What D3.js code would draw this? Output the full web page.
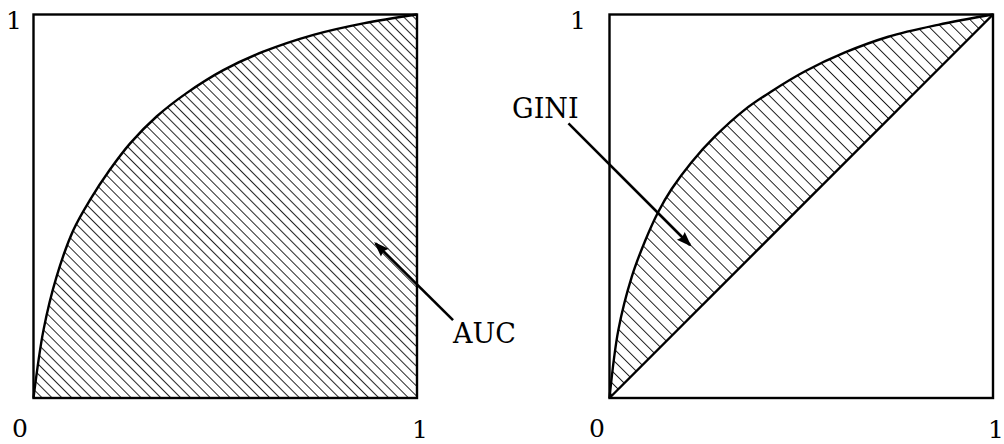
<!DOCTYPE html>
<html>
<head>
<meta charset="utf-8">
<script src="https://cdn.jsdelivr.net/npm/d3@7"></script>
<style>
  body { margin: 0; background: #fff; }
</style>
</head>
<body>
<div id="chart"></div>
<script>
// tick labels on each panel
var tickLabels = ["0", "1"];

// ROC curve (false positive rate, true positive rate)
var aucCurve = [
  [0, 0], [0.026, 0.177], [0.060, 0.316], [0.104, 0.438], [0.147, 0.516],
  [0.199, 0.595], [0.252, 0.664], [0.321, 0.734], [0.399, 0.795],
  [0.495, 0.855], [0.599, 0.903], [0.730, 0.947], [0.860, 0.977], [1, 1]
];

// same kind of curve on the right panel
var giniCurve = [
  [0, 0], [0.023, 0.177], [0.058, 0.316], [0.093, 0.410], [0.127, 0.485],
  [0.162, 0.545], [0.214, 0.615], [0.275, 0.682], [0.353, 0.752],
  [0.423, 0.800], [0.510, 0.852], [0.614, 0.901], [0.727, 0.942],
  [0.857, 0.973], [1, 1]
];

// random classifier line
var diagonal = [[0, 0], [1, 1]];

// annotations: label, label position, arrow start, arrow tip (data units)
var aucNote = {label: "AUC", text: [1.094, 0.144], from: [1.094, 0.203], to: [0.892, 0.403]};
var giniNote = {label: "GINI", text: [-0.254, 0.730], from: [-0.107, 0.716], to: [0.210, 0.399]};

var serif = "DejaVu Serif";

var width = 1004, height = 444;

var svg = d3.select("#chart")
  .append("svg")
    .attr("width", width)
    .attr("height", height);

var defs = svg.append("defs");

// hatch patterns (lines going down to the right)
function hatch(id, step) {
  var p = defs.append("pattern")
    .attr("id", id)
    .attr("patternUnits", "userSpaceOnUse")
    .attr("width", step)
    .attr("height", step)
    .attr("patternTransform", "rotate(-45)");
  p.append("line")
    .attr("x1", 0).attr("y1", -1)
    .attr("x2", 0).attr("y2", step + 1)
    .attr("stroke", "#000")
    .attr("stroke-width", 1.7);
}
hatch("hatchL", 7);
hatch("hatchR", 8.5);

defs.append("marker")
    .attr("id", "arrow")
    .attr("markerUnits", "userSpaceOnUse")
    .attr("viewBox", "-16 -7 18 14")
    .attr("refX", 0)
    .attr("refY", 0)
    .attr("markerWidth", 18)
    .attr("markerHeight", 14)
    .attr("orient", "auto")
  .append("path")
    .attr("d", "M2,0 L-13,-5.5 L-11,0 L-13,5.5 Z")
    .attr("fill", "#000");

var y = d3.scaleLinear().domain([0, 1]).range([398, 14.5]);
var xL = d3.scaleLinear().domain([0, 1]).range([33.5, 417]);
var xR = d3.scaleLinear().domain([0, 1]).range([609.5, 993]);

function panel(x, curve, lower, fillId, note, labelOffsets) {
  var g = svg.append("g");

  // shaded area between curve and lower bound
  var area = d3.area()
    .x(function(d) { return x(d[0]); })
    .y0(function(d) { return y(lower(d[0])); })
    .y1(function(d) { return y(d[1]); })
    .curve(d3.curveCatmullRom.alpha(0.5));
  g.append("path")
    .datum(curve)
    .attr("d", area)
    .attr("fill", "url(#" + fillId + ")");

  var line = d3.line()
    .x(function(d) { return x(d[0]); })
    .y(function(d) { return y(d[1]); })
    .curve(d3.curveCatmullRom.alpha(0.5));
  g.append("path")
    .datum(curve)
    .attr("d", line)
    .attr("fill", "none")
    .attr("stroke", "#000")
    .attr("stroke-width", 2.4);

  // frame
  g.append("rect")
    .attr("x", x(0))
    .attr("y", y(1))
    .attr("width", x(1) - x(0))
    .attr("height", y(0) - y(1))
    .attr("fill", "none")
    .attr("stroke", "#000")
    .attr("stroke-width", 2.4);

  // tick labels
  g.append("text")
    .attr("x", x(0) + labelOffsets.x0)
    .attr("y", y(0) + 39)
    .attr("text-anchor", "middle")
    .style("font-family", serif)
    .style("font-size", "25px")
    .text(tickLabels[0]);
  g.append("text")
    .attr("x", x(1) + 11)
    .attr("y", y(0) + 40)
    .attr("text-anchor", "end")
    .style("font-family", serif)
    .style("font-size", "25px")
    .text(tickLabels[1]);
  g.append("text")
    .attr("x", x(0) + labelOffsets.y1)
    .attr("y", y(1) + 14)
    .attr("text-anchor", "middle")
    .style("font-family", serif)
    .style("font-size", "25px")
    .text(tickLabels[1]);

  // annotation
  g.append("line")
    .attr("x1", x(note.from[0])).attr("y1", y(note.from[1]))
    .attr("x2", x(note.to[0])).attr("y2", y(note.to[1]))
    .attr("stroke", "#000")
    .attr("stroke-width", 2.6)
    .attr("marker-end", "url(#arrow)");
  g.append("text")
    .attr("x", x(note.text[0]))
    .attr("y", y(note.text[1]))
    .style("font-family", serif)
    .style("font-size", "27px")
    .text(note.label);

  return g;
}

panel(xL, aucCurve, function() { return 0; }, "hatchL", aucNote, {x0: -13.5, y1: -19.5});

var right = panel(xR, giniCurve, function(u) { return u; }, "hatchR", giniNote, {x0: -12.5, y1: -31.5});

right.append("path")
  .datum(diagonal)
  .attr("d", d3.line()
    .x(function(d) { return xR(d[0]); })
    .y(function(d) { return y(d[1]); }))
  .attr("fill", "none")
  .attr("stroke", "#000")
  .attr("stroke-width", 2.4);
</script>
</body>
</html>
